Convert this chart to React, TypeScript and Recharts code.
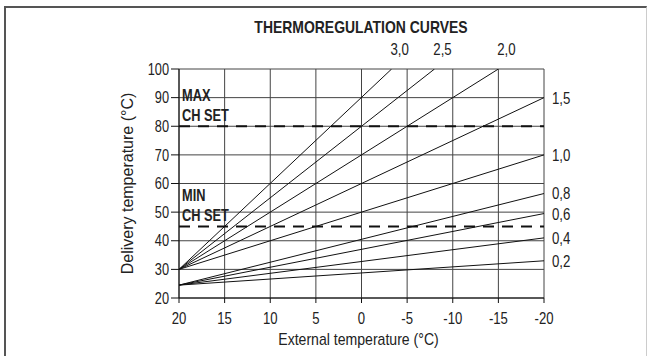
import { LineChart, Line, XAxis, YAxis, CartesianGrid, ReferenceLine, Label } from 'recharts';

// curve coefficients and where each line ends
const curveNames = ['3,0', '2,5', '2,0', '1,5', '1,0', '0,8', '0,6', '0,4', '0,2'];
const startExternal = [20, 20, 20, 20, 20, 20, 20, 20, 20];
const startDelivery = [30, 30, 30, 30, 30, 24.5, 24.5, 24.5, 24.5];
const endExternal = [-3.3, -8, -15, -20, -20, -20, -20, -20, -20];
const endDelivery = [100, 100, 100, 90, 70, 56.5, 49.5, 41, 33];

const xTicks = [20, 15, 10, 5, 0, -5, -10, -15, -20];
const yTicks = [20, 30, 40, 50, 60, 70, 80, 90, 100];

const maxChSet = 80;
const minChSet = 45;

// no narrow font installed, so Liberation Sans gets squeezed horizontally
const FONT = "'Liberation Sans', Arial, sans-serif";

const curves = curveNames.map((name, i) => ({
  name,
  data: [
    { ext: startExternal[i], t: startDelivery[i] },
    { ext: endExternal[i], t: endDelivery[i] },
  ],
}));

function NText({ x, y, sx = 0.85, anchor = 'start', dy, size = 15, weight, rotate, children }: any) {
  const tr = `translate(${x} ${y})${rotate ? ` rotate(${rotate})` : ''} scale(${sx} 1)`;
  return (
    <text
      transform={tr}
      x={0}
      y={0}
      dy={dy}
      textAnchor={anchor}
      fontFamily={FONT}
      fontSize={size}
      fontWeight={weight}
      fill="#222"
    >
      {children}
    </text>
  );
}

function makeEndLabel(i: number) {
  return (props: any) => {
    const { x, y, index } = props;
    if (index !== 1 || x == null || y == null) return null;
    if (endDelivery[i] >= 100) {
      return (
        <NText x={x + 8} y={y - 14} anchor="middle" size={17} sx={0.78}>
          {curveNames[i]}
        </NText>
      );
    }
    return (
      <NText x={x + 8} y={y} dy="0.35em" size={17} sx={0.78}>
        {curveNames[i]}
      </NText>
    );
  };
}

function setLabel(top: string) {
  return (props: any) => {
    const vb = props.viewBox || {};
    return (
      <g>
        <NText x={vb.x + 3} y={vb.y - 25} size={16} weight="bold" sx={0.8}>{top}</NText>
        <NText x={vb.x + 3} y={vb.y - 5} size={16} weight="bold" sx={0.8}>CH SET</NText>
      </g>
    );
  };
}

const xTick = (p: any) => (
  <NText x={p.x} y={p.y} dy="0.71em" anchor="middle" size={16} sx={0.82}>
    {String(p.payload.value)}
  </NText>
);

const yTick = (p: any) => (
  <NText x={p.x} y={p.y} dy="0.355em" anchor="end" size={16} sx={0.8}>
    {String(p.payload.value)}
  </NText>
);

const xLabel = (p: any) => {
  const vb = p.viewBox || {};
  return (
    <NText x={vb.x + vb.width / 2 - 3} y={vb.y + 47} anchor="middle" size={16} sx={0.88}>
      External temperature (°C)
    </NText>
  );
};

export default function App() {
  return (
    <div style={{ position: 'fixed', left: 0, top: 0, width: 649, height: 356, background: '#fff' }}>
      <div
        style={{
          position: 'absolute',
          left: 4,
          top: 6,
          width: 643,
          height: 352,
          borderTop: '2px solid #555',
          borderLeft: '2px solid #555',
          borderRight: '1px solid #ccc',
          boxSizing: 'border-box',
        }}
      />
      <div
        style={{
          position: 'absolute',
          left: 161,
          width: 400,
          top: 18,
          textAlign: 'center',
          fontFamily: FONT,
          fontWeight: 'bold',
          fontSize: 17,
          color: '#222',
          lineHeight: '20px',
          transform: 'scaleX(0.82)',
          transformOrigin: '50% 50%',
        }}
      >
        THERMOREGULATION CURVES
      </div>
      <LineChart width={649} height={356} margin={{ top: 69, right: 105, bottom: 8, left: 119 }}>
        <CartesianGrid stroke="#444" strokeWidth={1} />
        <XAxis
          type="number"
          dataKey="ext"
          domain={[-20, 20]}
          reversed
          ticks={xTicks}
          allowDataOverflow
          height={50}
          stroke="#111"
          tickSize={5}
          tickMargin={10}
          tick={xTick}
        >
          <Label content={xLabel} />
        </XAxis>
        <YAxis
          type="number"
          domain={[20, 100]}
          ticks={yTicks}
          allowDataOverflow
          width={60}
          stroke="#111"
          tickSize={8}
          tickMargin={2}
          tick={yTick}
        >
          <Label
            value="Delivery temperature (°C)"
            position="insideLeft"
            angle={-90}
            offset={8}
            style={{ fontFamily: FONT, fontSize: 16, fill: '#222', textAnchor: 'middle' }}
          />
        </YAxis>
        <ReferenceLine y={maxChSet} stroke="#111" strokeWidth={2} strokeDasharray="11 8" label={setLabel('MAX')} />
        <ReferenceLine y={minChSet} stroke="#111" strokeWidth={2} strokeDasharray="11 8" label={setLabel('MIN')} />
        {curves.map((c, i) => (
          <Line
            key={c.name}
            data={c.data}
            dataKey="t"
            stroke="#111"
            strokeWidth={1}
            dot={false}
            activeDot={false}
            isAnimationActive={false}
            label={makeEndLabel(i)}
          />
        ))}
      </LineChart>
    </div>
  );
}
